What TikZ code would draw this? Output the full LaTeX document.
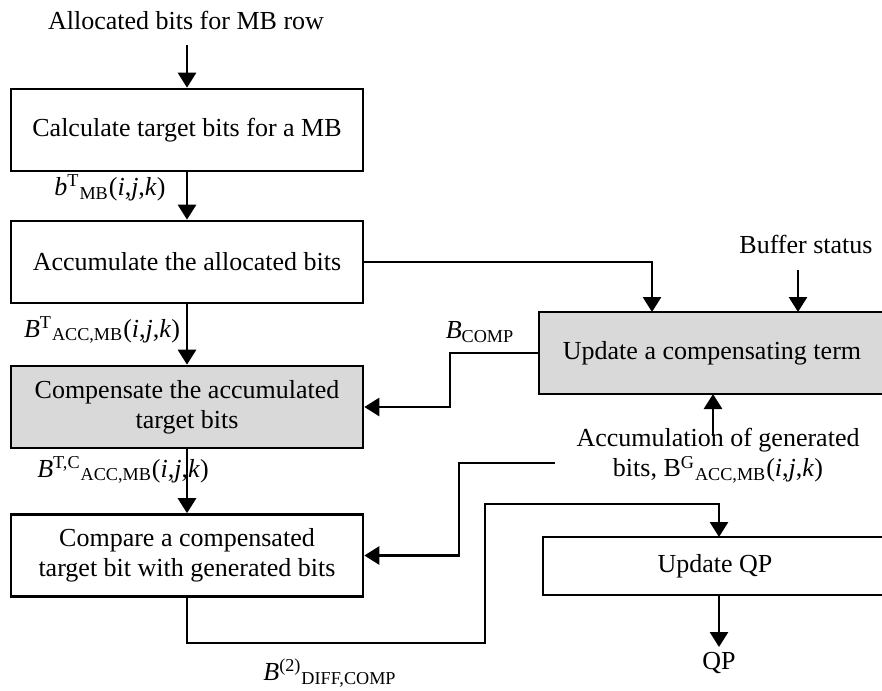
\documentclass[tikz,border=0pt]{standalone}
\usepackage{fontspec}
\setmainfont{Liberation Serif}
\usetikzlibrary{arrows.meta}
\definecolor{boxgray}{RGB}{217,217,217}
\newcommand{\lab}[3]{\textit{#1}\textsuperscript{#2}\textsubscript{#3}}
\newcommand{\ijk}{(\textit{i},\textit{j},\textit{k})}
\begin{document}
\begin{tikzpicture}[x=0.5pt,y=-0.5pt,
  txt/.style={font=\fontsize{13}{15}\selectfont},
  box/.style={draw,line width=1.3pt,rectangle,inner sep=0pt,align=center,txt,
              minimum width=176pt,minimum height=41pt},
  graybox/.style={box,fill=boxgray},
  lbl/.style={inner sep=0pt,align=center,txt},
  conn/.style={line width=1.4pt},
  arr/.style={conn,-{Triangle[length=7.5pt,width=9pt]}}]
\clip (0,0) rectangle (882,690);
% boxes
\node[box] (b1) at (187,130) {Calculate target bits for a MB};
\node[box] (b2) at (187,262) {Accumulate the allocated bits};
\node[graybox] (b3) at (187,407) {Compensate the accumulated\\target bits};
\node[box] (b4) at (187,555.5) {Compare a compensated\\target bit with generated bits};
\node[graybox,minimum width=173pt] (b5) at (712,353) {Update a compensating term};
\node[box,minimum width=172pt,minimum height=29pt] (b6) at (715,566) {Update QP};
% texts
\node[lbl] (top) at (186,20) {Allocated bits for MB row};
\node[lbl] (l1) at (110,188) {\lab{b}{T}{MB}\ijk};
\node[lbl] (l2) at (102,330) {\lab{B}{T}{ACC,MB}\ijk};
\node[lbl] (l3) at (123,470) {\lab{B}{T,C}{ACC,MB}\ijk};
\node[lbl] (lc) at (480,332) {\textit{B}\textsubscript{COMP}};
\node[lbl] (buf) at (806,244) {Buffer status};
\node[lbl] (acc) at (718,456) {Accumulation of generated\\bits, B\textsuperscript{G}\textsubscript{ACC,MB}\ijk};
\node[lbl] (qp) at (719,663) {QP};
\node[lbl] (ld) at (330,673) {\lab{B}{(2)}{DIFF,COMP}};
% coordinates
\coordinate (t0) at (187,45);
\coordinate (c1) at (652,312);
\coordinate (bf0) at (798,270);
\coordinate (bf1) at (798,312);
\coordinate (cb) at (450,353);
\coordinate (a0) at (713,436);
\coordinate (a1) at (713,394);
\coordinate (g1) at (555,463);
\coordinate (g2) at (459,463);
\coordinate (d1) at (485,643);
\coordinate (d2) at (485,504);
\coordinate (q1) at (719,537);
\coordinate (q2) at (719,595);
\coordinate (q3) at (719,647);
% connectors
\draw[arr] (t0) -- (b1.north);
\draw[arr] (b1.south) -- (b2.north);
\draw[arr] (b2.south) -- (b3.north);
\draw[arr] (b3.south) -- (b4.north);
\draw[arr] (b2.east) -| (c1);
\draw[arr] (bf0) -- (bf1);
\draw[arr] (b5.west) -- (cb) |- (b3.east);
\draw[arr] (a0) -- (a1);
\draw[arr] (g1) -- (g2) |- (b4.east);
\draw[arr] (b4.south) |- (d1) -- (d2) -| (q1);
\draw[arr] (q2) -- (q3);
\end{tikzpicture}
\end{document}
